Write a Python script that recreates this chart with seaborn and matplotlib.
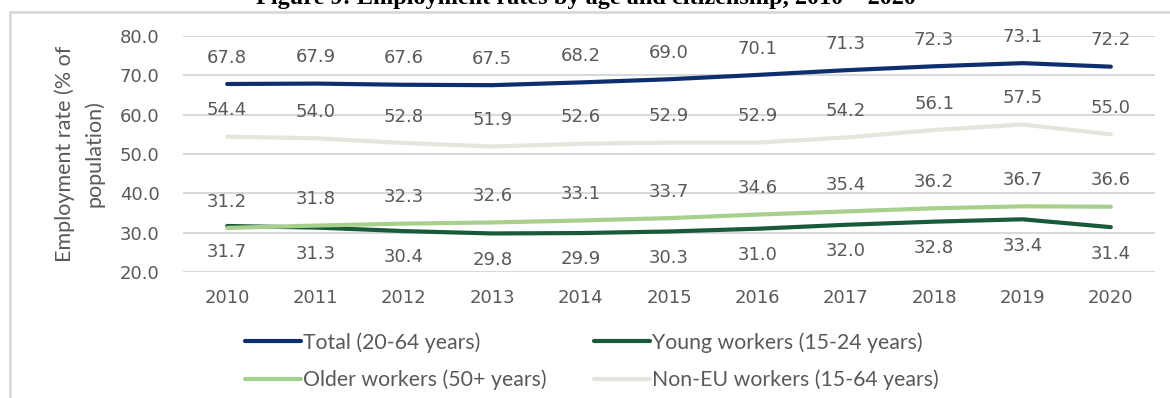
import matplotlib
matplotlib.use("Agg")
import matplotlib.pyplot as plt
from matplotlib.lines import Line2D
import numpy as np
import pandas as pd
import seaborn as sns

# Employment rates, 2010-2020 (% of population)
years = [2010, 2011, 2012, 2013, 2014, 2015, 2016, 2017, 2018, 2019, 2020]
total = [67.8, 67.9, 67.6, 67.5, 68.2, 69.0, 70.1, 71.3, 72.3, 73.1, 72.2]
young = [31.7, 31.3, 30.4, 29.8, 29.9, 30.3, 31.0, 32.0, 32.8, 33.4, 31.4]
older = [31.2, 31.8, 32.3, 32.6, 33.1, 33.7, 34.6, 35.4, 36.2, 36.7, 36.6]
non_eu = [54.4, 54.0, 52.8, 51.9, 52.6, 52.9, 52.9, 54.2, 56.1, 57.5, 55.0]

series_names = [
    "Total (20-64 years)",
    "Young workers (15-24 years)",
    "Older workers (50+ years)",
    "Non-EU workers (15-64 years)",
]
series_values = [total, young, older, non_eu]
colors = ["#0E2F6E", "#195A3A", "#A8D08D", "#E6E4DC"]
# value labels sit above the line, except for young workers (below)
label_side = [1, -1, 1, 1]

y_ticks = [20.0, 30.0, 40.0, 50.0, 60.0, 70.0, 80.0]

df = pd.DataFrame(
    {
        "year": np.tile(years, len(series_names)),
        "rate": np.concatenate(series_values),
        "series": np.repeat(series_names, len(years)),
    }
)

sns.set_theme(style="white")
plt.rcParams["font.family"] = ["DejaVu Sans"]

W, H = 1170, 398
fig = plt.figure(figsize=(W / 100, H / 100), dpi=100)
ax = fig.add_axes([183 / W, 1 - 272 / H, (1155 - 183) / W, (272 - 36) / H])

text_grey = "#595959"
grid_grey = "#D9D9D9"
label_font = ["Lato", "DejaVu Sans"]

for yv in y_ticks:
    ax.axhline(yv, color=grid_grey, lw=1.5, zorder=0)

sns.lineplot(
    data=df,
    x="year",
    y="rate",
    hue="series",
    hue_order=series_names,
    palette=dict(zip(series_names, colors)),
    linewidth=3.0,
    legend=False,
    ax=ax,
    zorder=3,
)
for line in ax.get_lines():
    line.set_solid_capstyle("round")
    line.set_solid_joinstyle("round")

for vals, side in zip(series_values, label_side):
    for x, v in zip(years, vals):
        ax.annotate(
            f"{v:.1f}",
            (x, v),
            xytext=(0, 19 * side),
            textcoords="offset points",
            ha="center",
            va="center",
            fontsize=13,
            color=text_grey,
            zorder=4,
        )

ax.set_xlim(years[0] - 0.5, years[-1] + 0.5)
ax.set_ylim(20, 80)
ax.set_xticks(years)
ax.set_xticklabels([str(y) for y in years])
ax.set_yticks(y_ticks)
ax.set_yticklabels([f"{v:.1f}" for v in y_ticks])
ax.tick_params(axis="both", length=0, labelsize=13, colors=text_grey)
ax.tick_params(axis="x", pad=12)
ax.tick_params(axis="y", pad=17)
for s in ax.spines.values():
    s.set_visible(False)
ax.set_xlabel("")
ax.set_ylabel(
    "Employment rate (% of\npopulation)",
    fontsize=15.5,
    color=text_grey,
    family=label_font,
    linespacing=1.55,
    labelpad=11,
)

# legend: two rows, two columns
handles = [
    Line2D([], [], color=c, lw=3.0, solid_capstyle="round") for c in colors
]
order = [0, 2, 1, 3]
fig.legend(
    [handles[i] for i in order],
    [series_names[i] for i in order],
    loc="upper left",
    bbox_to_anchor=(245 / W, 1 - 332 / H),
    ncol=2,
    frameon=False,
    handlelength=2.65,
    handletextpad=0.1,
    columnspacing=2.2,
    labelspacing=0.8,
    borderpad=0,
    borderaxespad=0,
    prop={"family": label_font, "size": 15.3},
    labelcolor=text_grey,
)

# surrounding frame lines and the figure title
frame_grey = "#D9D9D9"
fig.add_artist(Line2D([10 / W, 1], [1 - 12 / H, 1 - 12 / H], color=frame_grey, lw=2,
                      transform=fig.transFigure))
fig.add_artist(Line2D([10 / W, 10 / W], [0, 1 - 12 / H], color=frame_grey, lw=2,
                      transform=fig.transFigure))
fig.text(
    586 / W,
    1 - 4 / H,
    "Figure 9: Employment rates by age and citizenship, 2010 \u2013 2020",
    ha="center",
    va="baseline",
    fontsize=17.5,
    fontweight="bold",
    family=["Liberation Serif", "DejaVu Serif"],
    color="black",
)

fig.savefig("out.png", dpi=100)
